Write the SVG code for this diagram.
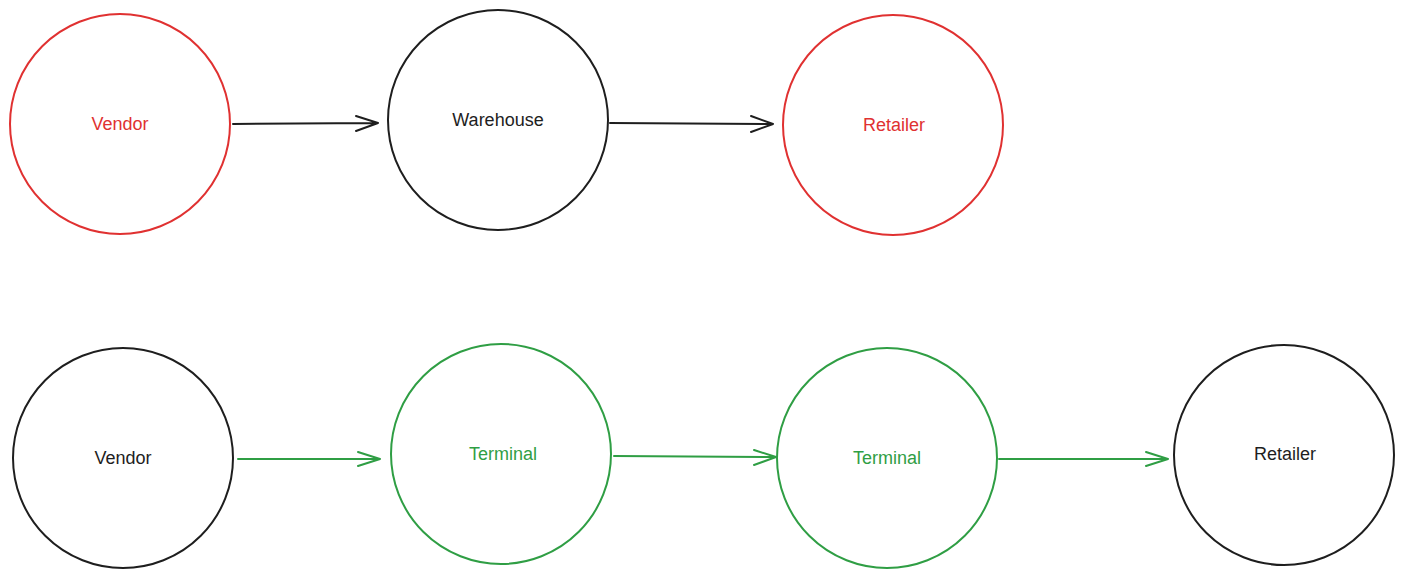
<svg xmlns="http://www.w3.org/2000/svg" width="1404" height="579" viewBox="0 0 1404 579">
<style>
.n{fill:none;stroke-width:2}
.red{stroke:#e03131}
.blk{stroke:#1e1e1e}
.grn{stroke:#2f9e44}
text{font-family:"Liberation Sans",Arial,sans-serif;font-size:18px;text-anchor:middle;dominant-baseline:central}
.tr{fill:#e03131}.tb{fill:#1e1e1e}.tg{fill:#2f9e44}
.c{fill:none;stroke-width:2;stroke-linecap:round;stroke-linejoin:round}
</style>
<rect width="1404" height="579" fill="#ffffff"/>
<g id="connectors">
<path class="c blk" d="M233,124 L378,123 M356,116 L378,123 L356,131"/>
<path class="c blk" d="M610,123 L773,124 M751,116 L773,124 L751,132"/>
<path class="c grn" d="M238,459 L380,459 M358,452 L380,459 L358,466"/>
<path class="c grn" d="M614,456 L776,457 M754,450 L776,457 L754,465"/>
<path class="c grn" d="M999,459 L1168,459 M1146,452 L1168,459 L1146,466"/>
</g>
<g id="vendor1"><circle class="n red" cx="120" cy="124" r="110"/><text class="tr" x="120" y="124">Vendor</text></g>
<g id="warehouse"><circle class="n blk" cx="498" cy="120" r="110"/><text class="tb" x="498" y="120">Warehouse</text></g>
<g id="retailer1"><circle class="n red" cx="893" cy="125" r="110"/><text class="tr" x="894" y="125">Retailer</text></g>
<g id="vendor2"><circle class="n blk" cx="123" cy="458" r="110"/><text class="tb" x="123" y="458">Vendor</text></g>
<g id="terminal1"><circle class="n grn" cx="501" cy="454" r="110"/><text class="tg" x="503" y="454">Terminal</text></g>
<g id="terminal2"><circle class="n grn" cx="887" cy="458" r="110"/><text class="tg" x="887" y="458">Terminal</text></g>
<g id="retailer2"><circle class="n blk" cx="1284" cy="455" r="110"/><text class="tb" x="1285" y="454">Retailer</text></g>
</svg>
